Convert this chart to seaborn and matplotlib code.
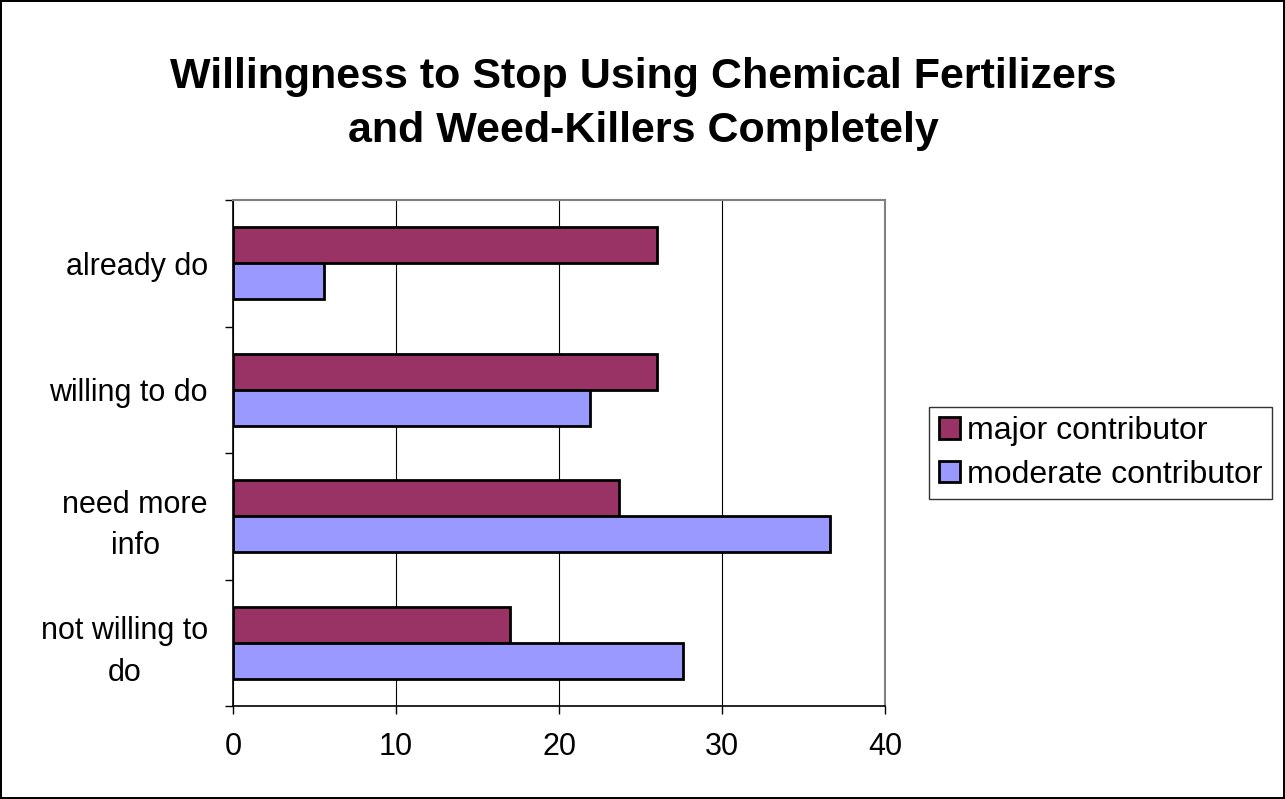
import pandas as pd
import matplotlib.pyplot as plt
import seaborn as sns

sns.set_theme(style="white")
plt.rcParams['font.family'] = ['Liberation Sans', 'DejaVu Sans']

categories = ["already do", "willing to do", "need more\ninfo", "not willing to\ndo"]
series = ["major contributor", "moderate contributor"]
major = [26.0, 26.0, 23.7, 17.0]
moderate = [5.6, 21.9, 36.6, 27.6]
colors = ["#993366", "#9999FF"]

df = pd.DataFrame({
    "category": categories * 2,
    "value": major + moderate,
    "series": [series[0]] * 4 + [series[1]] * 4,
})

fig = plt.figure(figsize=(12.85, 7.99), dpi=100, linewidth=1.5, edgecolor="black")
ax = fig.add_axes([233 / 1285, 1 - 706 / 799, 652 / 1285, 506 / 799])

sns.barplot(data=df, x="value", y="category", hue="series", orient="h",
            palette=colors, width=0.57, edgecolor="black", linewidth=2,
            saturation=1, ax=ax)

ax.set_xlim(0, 40)
ax.set_ylim(3.5, -0.5)
ax.set_xticks([0, 10, 20, 30, 40])
ax.xaxis.grid(True, color="black", linewidth=0.8)
ax.set_axisbelow(True)
ax.set_xlabel("")
ax.set_ylabel("")

# category labels centred, tick marks on the boundaries
ax.set_yticks(range(4))
ax.set_yticklabels(categories, multialignment="center", linespacing=1.5)
ax.set_yticks([-0.5, 0.5, 1.5, 2.5, 3.5], minor=True)
ax.tick_params(axis="y", which="major", length=0, pad=18, labelsize=22,
               labelcolor="black")
ax.tick_params(axis="y", which="minor", length=6, width=1, color="black", left=True)
ax.tick_params(axis="x", which="major", length=6, width=1, color="black",
               bottom=True, labelsize=22, pad=13, labelcolor="black")

for side in ["left", "bottom"]:
    ax.spines[side].set_color("black")
    ax.spines[side].set_linewidth(1.2)
for side in ["top", "right"]:
    ax.spines[side].set_color("#808080")
    ax.spines[side].set_linewidth(1.5)

leg = ax.legend(loc="center left", bbox_to_anchor=(929 / 1285, 1 - 453 / 799),
                bbox_transform=fig.transFigure, fontsize=23, frameon=True,
                fancybox=False, edgecolor="black", handlelength=0.68,
                handleheight=0.68, handletextpad=0.2, borderpad=0.3,
                labelspacing=0.42, borderaxespad=0)
leg.get_frame().set_linewidth(1)
for t in leg.get_texts():
    t.set_color("black")

fig.suptitle("Willingness to Stop Using Chemical Fertilizers\nand Weed-Killers Completely",
             x=643 / 1285, y=1 - 57 / 799, fontsize=31, fontweight="bold",
             linespacing=1.45, va="top", color="black")

fig.savefig("out.png", dpi=100)
